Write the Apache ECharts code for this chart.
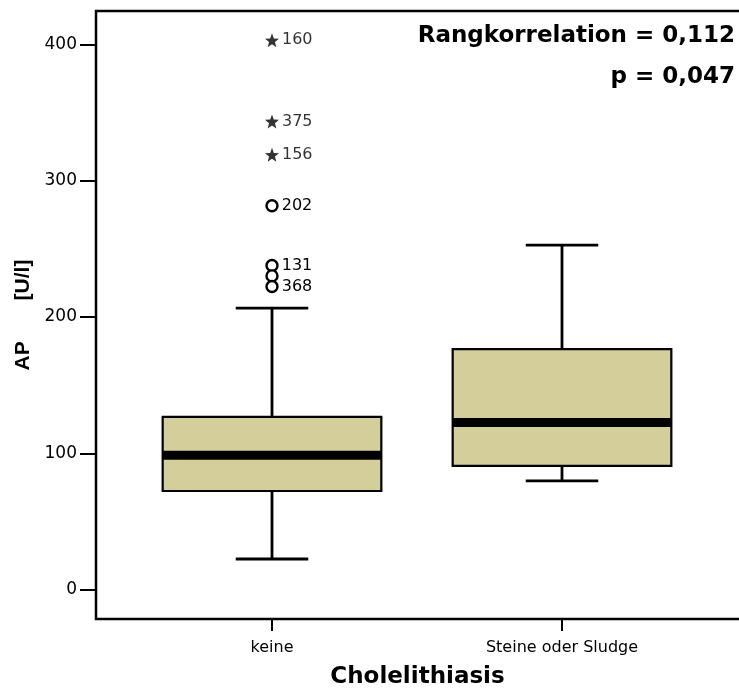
<!DOCTYPE html>
<html>
<head>
<meta charset="utf-8">
<script src="https://cdn.jsdelivr.net/npm/echarts@6/dist/echarts.min.js"></script>
<style>
html, body { margin: 0; padding: 0; background: #fff; }
#chart { width: 739px; height: 691px; }
</style>
</head>
<body>
<div id="chart"></div>
<script>
// Gruppen
const categories = ['keine', 'Steine oder Sludge'];
// [min, Q1, Median, Q3, max] je Gruppe
const boxValues = [
  [22.5, 72.4, 98.6, 126.8, 206.5],
  [79.8, 90.8, 122.6, 176.4, 252.8]
];
// Extremwerte (*): [Gruppe, Wert, Fallnummer]
const extremes = [[0, 403, '160'], [0, 343.5, '375'], [0, 319, '156']];
// Ausreisser (o)
const outliers = [[0, 281.6, '202'], [0, 237.8, '131'], [0, 230.2, ''], [0, 222.4, '368']];
const yTicks = [0, 100, 200, 300, 400];
const yMin = -21.5;
const yMax = 424.5;

const FONT = 'DejaVu Sans';

// Stern als Symbol
function starPath(n, rIn) {
  let d = '';
  for (let i = 0; i < n * 2; i++) {
    const r = i % 2 ? rIn : 1;
    const a = Math.PI * i / n - Math.PI / 2;
    d += (i ? 'L' : 'M') + (10 + 10 * r * Math.cos(a)).toFixed(2) + ' ' + (10 + 10 * r * Math.sin(a)).toFixed(2);
  }
  return 'path://' + d + 'Z';
}

// Box mit Whiskern, Median als dicker Balken
function renderBox(params, api) {
  const i = api.value(0);
  const band = api.size([1, 0])[0];
  const hb = band * 0.377;
  const hc = band * 0.125;
  const lo = api.coord([i, api.value(1)]);
  const q1 = api.coord([i, api.value(2)]);
  const md = api.coord([i, api.value(3)]);
  const q3 = api.coord([i, api.value(4)]);
  const hi = api.coord([i, api.value(5)]);
  const cx = lo[0];
  const ln = { stroke: '#000', lineWidth: 2.8 };
  return {
    type: 'group',
    children: [
      { type: 'line', shape: { x1: cx, y1: hi[1], x2: cx, y2: q3[1] }, style: ln },
      { type: 'line', shape: { x1: cx, y1: q1[1], x2: cx, y2: lo[1] }, style: ln },
      { type: 'line', shape: { x1: cx - hc, y1: hi[1], x2: cx + hc, y2: hi[1] }, style: ln },
      { type: 'line', shape: { x1: cx - hc, y1: lo[1], x2: cx + hc, y2: lo[1] }, style: ln },
      { type: 'rect', shape: { x: cx - hb, y: q3[1], width: 2 * hb, height: q1[1] - q3[1] },
        style: { fill: '#d3ce9a', stroke: '#000', lineWidth: 2.2 } },
      { type: 'rect', shape: { x: cx - hb, y: md[1] - 4.5, width: 2 * hb, height: 9 },
        style: { fill: '#000' } }
    ]
  };
}

const chart = echarts.init(document.getElementById('chart'));

const pointLabel = {
  show: true,
  position: 'right',
  distance: 3,
  fontFamily: FONT,
  fontSize: 16,
  color: '#000',
  formatter: p => p.value[2]
};

const option = {
  animation: false,
  title: [
    { text: 'Rangkorrelation = 0,112', right: 4, top: 25, padding: 0,
      textStyle: { fontFamily: FONT, fontSize: 23, fontWeight: 'bold', color: '#000' } },
    { text: 'p = 0,047', right: 4, top: 66, padding: 0,
      textStyle: { fontFamily: FONT, fontSize: 23, fontWeight: 'bold', color: '#000' } }
  ],
  grid: [
    { left: 127, width: 580, top: 11, bottom: 72, outerBoundsMode: 'none' },
    { left: 96, right: -6, top: 11, bottom: 72, outerBoundsMode: 'none',
      show: true, borderColor: '#000', borderWidth: 2.5 }
  ],
  xAxis: [
    {
      type: 'category', gridIndex: 0, data: categories, boundaryGap: true,
      axisLine: { show: false, onZero: false },
      axisTick: { show: true, alignWithLabel: true, length: 12, lineStyle: { color: '#000', width: 2 } },
      axisLabel: { fontFamily: FONT, fontSize: 16, color: '#000', margin: 21 },
      splitLine: { show: false }
    },
    {
      type: 'value', gridIndex: 1, min: 0, max: 1,
      axisLine: { show: false, onZero: false }, axisTick: { show: false }, axisLabel: { show: false }, splitLine: { show: false },
      name: 'Cholelithiasis', nameLocation: 'middle', nameGap: 47,
      nameTextStyle: { fontFamily: FONT, fontSize: 23, fontWeight: 'bold', color: '#000', padding: [0, 6, 0, 0] }
    }
  ],
  yAxis: [
    {
      type: 'value', gridIndex: 0, min: yMin, max: yMax,
      axisLine: { show: false }, axisTick: { show: false }, axisLabel: { show: false }, splitLine: { show: false }
    },
    {
      type: 'value', gridIndex: 1, min: yMin, max: yMax,
      axisLine: { show: false },
      axisTick: { show: true, length: 16, customValues: yTicks, lineStyle: { color: '#000', width: 2 } },
      axisLabel: { fontFamily: FONT, fontSize: 17, color: '#000', margin: 19, customValues: yTicks },
      splitLine: { show: false },
      name: 'AP       [U/l]', nameLocation: 'middle', nameGap: 58,
      nameTextStyle: { fontFamily: 'Liberation Sans', fontSize: 21, fontWeight: 'bold', color: '#000' }
    }
  ],
  series: [
    {
      type: 'custom', xAxisIndex: 0, yAxisIndex: 0,
      renderItem: renderBox,
      encode: { x: 0, y: [1, 2, 3, 4, 5] },
      data: categories.map((c, i) => [i].concat(boxValues[i]))
    },
    {
      type: 'scatter', xAxisIndex: 0, yAxisIndex: 0,
      symbol: starPath(5, 0.42), symbolSize: 14,
      itemStyle: { color: '#000' },
      label: pointLabel,
      data: extremes
    },
    {
      type: 'scatter', xAxisIndex: 0, yAxisIndex: 0,
      symbol: 'circle', symbolSize: 11,
      itemStyle: { color: '#fff', borderColor: '#000', borderWidth: 2.4, opacity: 1 },
      label: pointLabel,
      data: outliers
    }
  ]
};

chart.setOption(option);
window.addEventListener('resize', () => chart.resize());
</script>
</body>
</html>
